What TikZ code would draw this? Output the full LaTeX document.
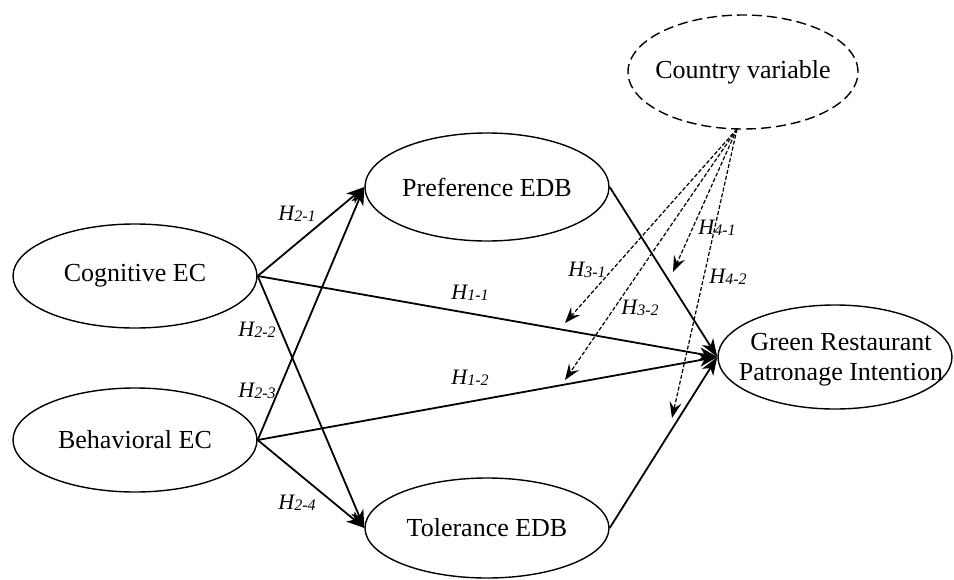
\documentclass[tikz,border=0pt]{standalone}
\usepackage{fontspec}
\setmainfont{Liberation Serif}
\usetikzlibrary{shapes.geometric,arrows.meta}
\newcommand{\hyp}[1]{{\fontsize{22}{22}\selectfont\itshape H}{\fontsize{16}{16}\selectfont\itshape\raisebox{-1pt}{#1}}}
\begin{document}
\begin{tikzpicture}[x=1pt,y=-1pt,
  latent/.style={ellipse,draw,line width=1.4pt,inner sep=0pt},
  txt/.style={inner sep=0pt,font=\fontsize{26}{30}\selectfont,align=center},
  path/.style={line width=1.8pt,-{Stealth[length=18pt,width=13pt,inset=5pt]}},
  moder/.style={line width=1.2pt,dash pattern=on 4pt off 2pt,-{Stealth[length=16pt,width=12pt,inset=6pt]}},
  hlab/.style={inner sep=0pt}]
\useasboundingbox (0,0) rectangle (954,579);
\node[latent,minimum width=244pt,minimum height=104pt] (cog) at (135,276) {};
\node[latent,minimum width=244pt,minimum height=104pt] (beh) at (135,440) {};
\node[latent,minimum width=244pt,minimum height=108pt] (pref) at (487,187) {};
\node[latent,minimum width=244pt,minimum height=100pt] (tol) at (487,528) {};
\node[latent,minimum width=234pt,minimum height=104pt] (grn) at (835,357) {};
\node[latent,dash pattern=on 10pt off 5pt,minimum width=230pt,minimum height=114pt] (cty) at (743,72) {};
\node[txt] (cogt) at (cog.center) {Cognitive EC};
\node[txt] (beht) at (beh.center) {Behavioral EC};
\node[txt] (preft) at (pref.center) {Preference EDB};
\node[txt] (tolt) at (tol.center) {Tolerance EDB};
\node[txt] (grnt) at (841,360) {Green Restaurant\\Patronage Intention};
\node[txt] (ctyt) at (cty.center) {Country variable};
\coordinate (src) at (737,129);
\coordinate (t31) at (565,323);
\coordinate (t32) at (565,380);
\coordinate (t41) at (673,272);
\coordinate (t42) at (672,418);
\draw[path] (cog.east) -- (pref.west);
\draw[path] (cog.east) -- (tol.west);
\draw[path] (beh.east) -- (pref.west);
\draw[path] (beh.east) -- (tol.west);
\draw[path] (cog.east) -- (grn.west);
\draw[path] (beh.east) -- (grn.west);
\draw[path] (pref.east) -- (grn.west);
\draw[path] (tol.east) -- (grn.west);
\draw[moder] (src) -- (t31);
\draw[moder] (src) -- (t32);
\draw[moder] (src) -- (t41);
\draw[moder] (src) -- (t42);
\node[hlab] (h21) at (297,214) {\hyp{2-1}};
\node[hlab] (h22) at (257,330) {\hyp{2-2}};
\node[hlab] (h23) at (257,391) {\hyp{2-3}};
\node[hlab] (h24) at (297,503) {\hyp{2-4}};
\node[hlab] (h11) at (470,293) {\hyp{1-1}};
\node[hlab] (h12) at (470,378) {\hyp{1-2}};
\node[hlab] (h31) at (587,270) {\hyp{3-1}};
\node[hlab] (h32) at (640,308) {\hyp{3-2}};
\node[hlab] (h41) at (717,228) {\hyp{4-1}};
\node[hlab] (h42) at (728,277) {\hyp{4-2}};
\end{tikzpicture}
\end{document}
